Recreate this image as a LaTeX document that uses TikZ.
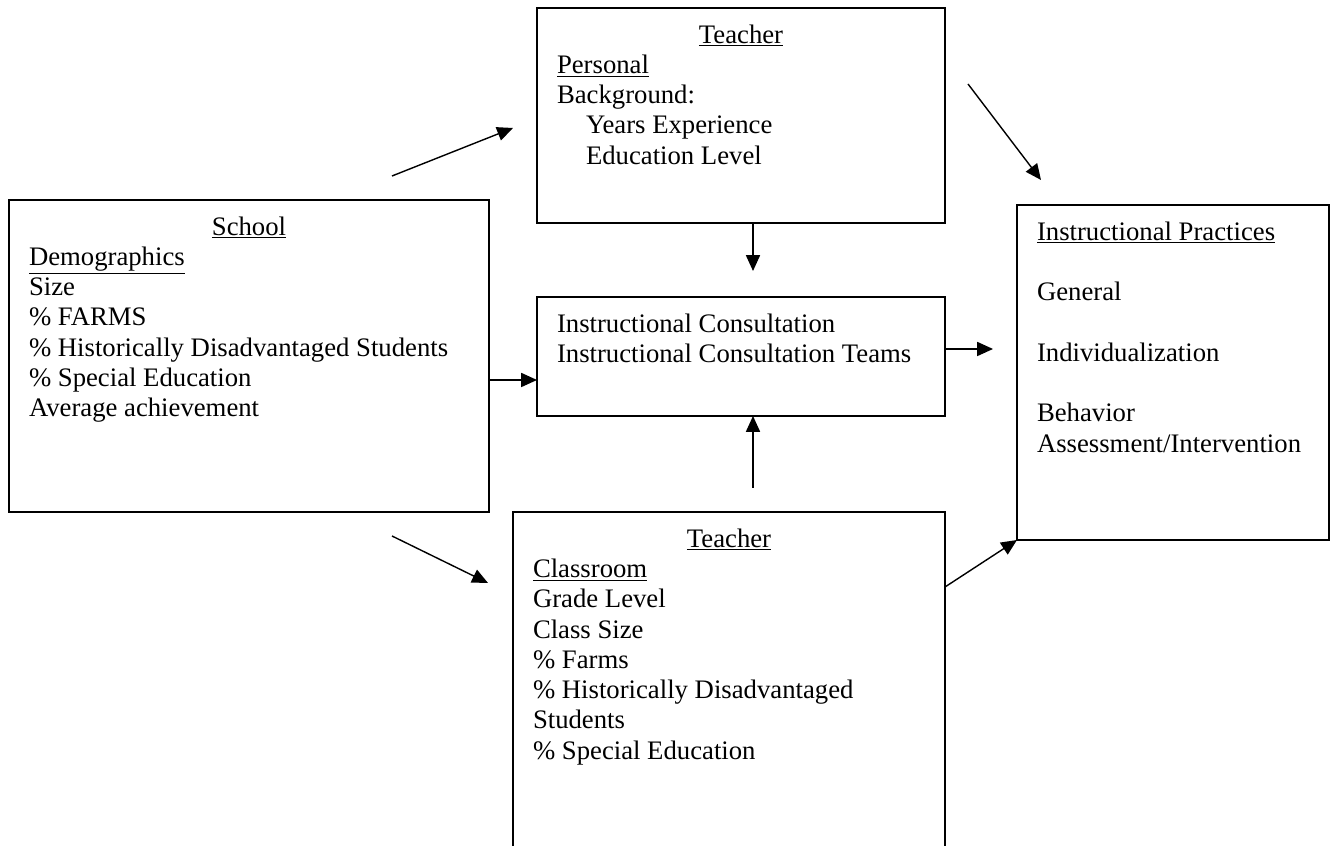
\documentclass[tikz,border=0pt]{standalone}
\usepackage{fontspec}
\setmainfont{Liberation Serif}
\usepackage{tikz}
\usetikzlibrary{arrows.meta}

\begin{document}
\begin{tikzpicture}[->,>={Triangle[length=9pt,width=8pt]},line width=0.8pt,
		font=\fontsize{15.2}{17.25}\selectfont,
		box node/.style={rectangle,draw,line width=1.1pt,inner xsep=0.4cm,inner ysep=0.277cm,outer sep=0pt}]
		
		\clip (0,0) rectangle (26.7,16.92);
		
		\node[box node](pers) at (14.82,14.61){\parbox[t][3.746cm][t]{7.36cm}{\strut\makebox[\linewidth]{\underline{Teacher}}\\
				\underline{Personal}\\
				Background:\\
				\hspace*{0.58cm}Years Experience\\
				\hspace*{0.58cm}Education Level}};
		\node[box node](school) at (4.98,9.80){\parbox[t][5.686cm][t]{8.8cm}{\strut\makebox[\linewidth]{\underline{School}}\\
				\underline{Demographics}\\
				Size\\
				\% FARMS\\
				\% Historically Disadvantaged Students\\
				\% Special Education\\
				Average achievement}};
		\node[box node](cons) at (14.82,9.79){\parbox[t][1.826cm][t]{7.36cm}{\strut Instructional Consultation\\
				Instructional Consultation Teams}};
		\node[box node](prac) at (23.46,9.47){\parbox[t][6.146cm][t]{5.44cm}{\strut\underline{Instructional Practices}\\[\baselineskip]
				General\\[\baselineskip]
				Individualization\\[\baselineskip]
				Behavior\\
				Assessment/Intervention}};
		\node[box node](clas) at (14.58,2.99){\parbox[t][6.826cm][t]{7.84cm}{\strut\makebox[\linewidth]{\underline{Teacher}}\\
				\underline{Classroom}\\
				Grade Level\\
				Class Size\\
				\% Farms\\
				\% Historically Disadvantaged\\
				Students\\
				\% Special Education}};
		
		\coordinate (s1) at (7.84,13.40);
		\coordinate (t1) at (10.26,14.36);
		\coordinate (s2) at (19.36,15.24);
		\coordinate (t2) at (20.82,13.32);
		\coordinate (t3) at (15.06,11.50);
		\coordinate (s4) at (10.00,9.32);
		\coordinate (t5) at (19.86,9.94);
		\coordinate (s6) at (15.06,7.16);
		\coordinate (s7) at (7.84,6.20);
		\coordinate (t7) at (9.76,5.26);
		\coordinate (s8) at (18.90,5.18);
		
		\draw (s1) -- (t1);
		\draw (s2) -- (t2);
		\draw (pers.south -| t3) -- (t3);
		\draw (school.east |- s4) -- (cons.west |- s4);
		\draw (cons.east |- t5) -- (t5);
		\draw (s6) -- (cons.south -| s6);
		\draw (s7) -- (t7);
		\draw (clas.east |- s8) -- (prac.south west);
		
	\end{tikzpicture}
\end{document}
